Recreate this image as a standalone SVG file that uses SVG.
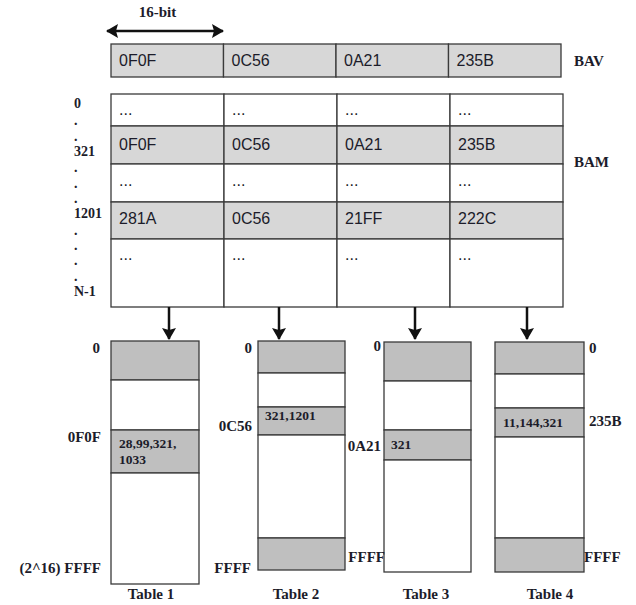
<svg xmlns="http://www.w3.org/2000/svg" width="636" height="605" viewBox="0 0 636 605">
<style>
.bg{fill:#ffffff}
.cellL{fill:#d7d7d7;stroke:#3a3a3a;stroke-width:1.3}
.cellW{fill:#ffffff;stroke:#3a3a3a;stroke-width:1.3}
.cellT{fill:#bfbfbf;stroke:#3a3a3a;stroke-width:1.3}
.hex{font-family:"Liberation Sans",Arial,sans-serif;font-size:16px;fill:#1c1c2a}
.lbl{font-family:"Liberation Serif","Times New Roman",serif;font-weight:bold;font-size:15px;fill:#1c1c2a}
.rl{font-family:"Liberation Serif","Times New Roman",serif;font-weight:bold;font-size:14px;fill:#1c1c2a}
.ct{font-family:"Liberation Serif","Times New Roman",serif;font-weight:bold;font-size:13.5px;fill:#1c1c2a}
.arr{stroke:#111;stroke-width:2.5;fill:none}
</style>
<defs>
<marker id="ah" markerUnits="userSpaceOnUse" markerWidth="14" markerHeight="14" viewBox="0 0 12 14" refX="11" refY="7" orient="auto-start-reverse">
<path d="M0,0 L12,7 L0,14 L2,7 Z" fill="#111"/>
</marker>
</defs>
<rect class="bg" x="0" y="0" width="636" height="605"/>

<g id="width-label">
<text class="lbl" x="157.5" y="17" text-anchor="middle">16-bit</text>
</g>

<g id="BAV">
<rect class="cellL" x="111" y="44" width="112.5" height="33"/>
<rect class="cellL" x="223.5" y="44" width="112.5" height="33"/>
<rect class="cellL" x="336" y="44" width="112.5" height="33"/>
<rect class="cellL" x="448.5" y="44" width="112.5" height="33"/>
<text class="hex" x="119" y="66">0F0F</text>
<text class="hex" x="231.5" y="66">0C56</text>
<text class="hex" x="344" y="66">0A21</text>
<text class="hex" x="456.5" y="66">235B</text>
<text class="lbl" x="574" y="66">BAV</text>
</g>

<g id="BAM">
<g>
<rect class="cellW" x="111" y="94" width="113" height="32"/>
<rect class="cellW" x="224" y="94" width="113" height="32"/>
<rect class="cellW" x="337" y="94" width="113" height="32"/>
<rect class="cellW" x="450" y="94" width="113" height="32"/>
<rect class="cellL" x="111" y="126" width="113" height="38"/>
<rect class="cellL" x="224" y="126" width="113" height="38"/>
<rect class="cellL" x="337" y="126" width="113" height="38"/>
<rect class="cellL" x="450" y="126" width="113" height="38"/>
<rect class="cellW" x="111" y="164" width="113" height="38"/>
<rect class="cellW" x="224" y="164" width="113" height="38"/>
<rect class="cellW" x="337" y="164" width="113" height="38"/>
<rect class="cellW" x="450" y="164" width="113" height="38"/>
<rect class="cellL" x="111" y="202" width="113" height="37"/>
<rect class="cellL" x="224" y="202" width="113" height="37"/>
<rect class="cellL" x="337" y="202" width="113" height="37"/>
<rect class="cellL" x="450" y="202" width="113" height="37"/>
<rect class="cellW" x="111" y="239" width="113" height="68"/>
<rect class="cellW" x="224" y="239" width="113" height="68"/>
<rect class="cellW" x="337" y="239" width="113" height="68"/>
<rect class="cellW" x="450" y="239" width="113" height="68"/>
</g>
<text class="hex" x="119" y="115">...</text>
<text class="hex" x="232" y="115">...</text>
<text class="hex" x="345" y="115">...</text>
<text class="hex" x="458" y="115">...</text>
<text class="hex" x="119" y="150">0F0F</text>
<text class="hex" x="232" y="150">0C56</text>
<text class="hex" x="345" y="150">0A21</text>
<text class="hex" x="458" y="150">235B</text>
<text class="hex" x="119" y="186">...</text>
<text class="hex" x="232" y="186">...</text>
<text class="hex" x="345" y="186">...</text>
<text class="hex" x="458" y="186">...</text>
<text class="hex" x="119" y="224">281A</text>
<text class="hex" x="232" y="224">0C56</text>
<text class="hex" x="345" y="224">21FF</text>
<text class="hex" x="458" y="224">222C</text>
<text class="hex" x="119" y="260">...</text>
<text class="hex" x="232" y="260">...</text>
<text class="hex" x="345" y="260">...</text>
<text class="hex" x="458" y="260">...</text>
<text class="lbl" x="574" y="167">BAM</text>
</g>

<g id="row-index">
<text class="rl" x="74" y="108">0</text>
<text class="rl" x="74" y="125">.</text>
<text class="rl" x="74" y="141">.</text>
<text class="rl" x="74" y="156">321</text>
<text class="rl" x="74" y="172">.</text>
<text class="rl" x="74" y="188">.</text>
<text class="rl" x="74" y="203">.</text>
<text class="rl" x="74" y="218">1201</text>
<text class="rl" x="74" y="235">.</text>
<text class="rl" x="74" y="250">.</text>
<text class="rl" x="74" y="265">.</text>
<text class="rl" x="74" y="281">.</text>
<text class="rl" x="74" y="296">N-1</text>
</g>

<g id="connectors">
<line class="arr" x1="107" y1="31" x2="223" y2="31" marker-start="url(#ah)" marker-end="url(#ah)"/>
<line class="arr" x1="169" y1="307" x2="169" y2="339" marker-end="url(#ah)"/>
<line class="arr" x1="279" y1="307" x2="279" y2="339" marker-end="url(#ah)"/>
<line class="arr" x1="415" y1="307" x2="415" y2="339" marker-end="url(#ah)"/>
<line class="arr" x1="527" y1="307" x2="527" y2="339" marker-end="url(#ah)"/>
</g>

<g id="table1">
<rect class="cellT" x="111" y="341" width="88" height="39"/>
<rect class="cellW" x="111" y="380" width="88" height="50"/>
<rect class="cellT" x="111" y="430" width="88" height="43"/>
<rect class="cellW" x="111" y="473" width="88" height="111"/>
<text class="ct" x="119" y="448">28,99,321,</text>
<text class="ct" x="119" y="464">1033</text>
<text class="lbl" x="100" y="353" text-anchor="end">0</text>
<text class="lbl" x="101" y="442" text-anchor="end">0F0F</text>
<text class="lbl" x="101" y="573" text-anchor="end">(2^16) FFFF</text>
<text class="lbl" x="151" y="599" text-anchor="middle">Table 1</text>
</g>

<g id="table2">
<rect class="cellT" x="258" y="341" width="87" height="32"/>
<rect class="cellW" x="258" y="373" width="87" height="34"/>
<rect class="cellT" x="258" y="407" width="87" height="28"/>
<rect class="cellW" x="258" y="435" width="87" height="103"/>
<rect class="cellT" x="258" y="538" width="87" height="32"/>
<text class="ct" x="265" y="420">321,1201</text>
<text class="lbl" x="252" y="353" text-anchor="end">0</text>
<text class="lbl" x="252" y="431" text-anchor="end">0C56</text>
<text class="lbl" x="251" y="573" text-anchor="end">FFFF</text>
<text class="lbl" x="296" y="599" text-anchor="middle">Table 2</text>
</g>

<g id="table3">
<rect class="cellT" x="384" y="342" width="87" height="39"/>
<rect class="cellW" x="384" y="381" width="87" height="49"/>
<rect class="cellT" x="384" y="430" width="87" height="30"/>
<rect class="cellW" x="384" y="460" width="87" height="112"/>
<text class="ct" x="391" y="449">321</text>
<text class="lbl" x="381" y="351" text-anchor="end">0</text>
<text class="lbl" x="381" y="451" text-anchor="end">0A21</text>
<text class="lbl" x="385" y="562" text-anchor="end">FFFF</text>
<text class="lbl" x="426" y="599" text-anchor="middle">Table 3</text>
</g>

<g id="table4">
<rect class="cellT" x="495" y="342" width="89" height="32"/>
<rect class="cellW" x="495" y="374" width="89" height="34"/>
<rect class="cellT" x="495" y="408" width="89" height="29"/>
<rect class="cellW" x="495" y="437" width="89" height="101"/>
<rect class="cellT" x="495" y="538" width="89" height="34"/>
<text class="ct" x="503" y="427">11,144,321</text>
<text class="lbl" x="589" y="353">0</text>
<text class="lbl" x="589" y="426">235B</text>
<text class="lbl" x="584" y="562">FFFF</text>
<text class="lbl" x="550" y="599" text-anchor="middle">Table 4</text>
</g>
</svg>
